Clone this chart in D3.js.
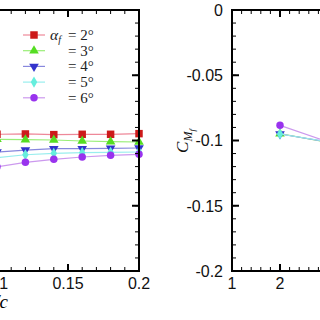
<!DOCTYPE html>
<html><head><meta charset="utf-8">
<script src="https://cdn.jsdelivr.net/npm/d3@7"></script>
<style>body{margin:0;background:#fff}svg{display:block}</style>
</head><body>
<svg id="c" width="320" height="320"></svg>
<script>
// ---- data ----
const angles = ["2°","3°","4°","5°","6°"];
const colors = ["#cc1a1a","#55dd22","#3333cc","#66eedd","#9933ee"];
const lineColors = ["#ee8899","#99ee77","#8888dd","#99eeee","#cc99ee"];
const symbols = ["square","triangle","triangleDown","diamond","circle"];

const leftX = [0.10, 0.12, 0.14, 0.16, 0.18, 0.20];
const left2 = [0.419, 0.420, 0.418, 0.419, 0.419, 0.421];
const left3 = [0.4037, 0.4025, 0.4016, 0.3985, 0.3963, 0.3954];
const left4 = [0.3647, 0.3708, 0.3749, 0.3749, 0.3761, 0.3770];
const left5 = [0.3473, 0.3564, 0.3607, 0.3626, 0.3639, 0.3647];
const left6 = [0.3195, 0.3331, 0.3424, 0.3494, 0.3546, 0.3577];
const leftSeries = [left2, left3, left4, left5, left6];

const rightX = [2, 3];
const right2 = [null, -0.1000];
const right3 = [-0.0948, -0.1015];
const right4 = [-0.0950, -0.1012];
const right5 = [-0.0950, -0.1010];
const right6 = [-0.0884, -0.1010];
const rightSeries = [right2, right3, right4, right5, right6];

const leftXTicks = [0.1, 0.15, 0.2];
const rightXTicks = [1, 2];
const rightYTicks = [0, -0.05, -0.1, -0.15, -0.2];

// ---- layout ----
const svg = d3.select("#c");
const plotTop = 10, plotBottom = 271;
const xL = d3.scaleLinear().domain([0, 0.2]).range([-145, 139]);
const yL = d3.scaleLinear().domain([0, 0.8]).range([plotBottom, plotTop]);
const xR = d3.scaleLinear().domain([1, 6]).range([232, 472]);
const yR = d3.scaleLinear().domain([-0.2, 0]).range([plotBottom, plotTop]);

const tickFont = "'Liberation Sans', Arial, sans-serif";
const serif = "'Liberation Serif', 'Times New Roman', serif";
const symMap = {square: d3.symbolSquare, triangle: d3.symbolTriangle, triangleDown: d3.symbolTriangle, diamond: d3.symbolDiamond, circle: d3.symbolCircle};
const sizes = {square: 56, triangle: 40, triangleDown: 40, diamond: 36, circle: 44};

function frame(g, x, y, xMajor, xMinor, yMajor, yMinor, xFmt, yFmt, showYLabels) {
  const xr = x.range(), yr = y.range();
  const x0 = xr[0], x1 = xr[1], y0 = yr[1], y1 = yr[0];
  const majLen = 7, minLen = 4;
  const mk = (sc, step) => d3.range(Math.round((sc.domain()[1]-sc.domain()[0])/step)+1).map(i => sc.domain()[0] + i*step);
  const xmin = mk(x, xMinor), ymin = mk(y, yMinor), xmaj = mk(x, xMajor), ymaj = mk(y, yMajor);
  const t = g.append("g").attr("stroke", "#000");
  xmin.forEach(v => {
    t.append("line").attr("x1", x(v)).attr("x2", x(v)).attr("y1", y1).attr("y2", y1-minLen).attr("stroke-width", 1);
    t.append("line").attr("x1", x(v)).attr("x2", x(v)).attr("y1", y0).attr("y2", y0+minLen).attr("stroke-width", 1);
  });
  ymin.forEach(v => {
    t.append("line").attr("y1", y(v)).attr("y2", y(v)).attr("x1", x0).attr("x2", x0+minLen).attr("stroke-width", 1);
    t.append("line").attr("y1", y(v)).attr("y2", y(v)).attr("x1", x1).attr("x2", x1-minLen).attr("stroke-width", 1);
  });
  xmaj.forEach(v => {
    t.append("line").attr("x1", x(v)).attr("x2", x(v)).attr("y1", y1).attr("y2", y1-majLen).attr("stroke-width", 2);
    t.append("line").attr("x1", x(v)).attr("x2", x(v)).attr("y1", y0).attr("y2", y0+majLen).attr("stroke-width", 2);
  });
  ymaj.forEach(v => {
    t.append("line").attr("y1", y(v)).attr("y2", y(v)).attr("x1", x0).attr("x2", x0+majLen).attr("stroke-width", 2);
    t.append("line").attr("y1", y(v)).attr("y2", y(v)).attr("x1", x1).attr("x2", x1-majLen).attr("stroke-width", 2);
  });
  g.append("rect").attr("x", x0).attr("y", y0).attr("width", x1-x0).attr("height", y1-y0)
    .attr("fill", "none").attr("stroke", "#000").attr("stroke-width", 2);
  g.append("g").selectAll("text").data(xFmt.ticks).join("text")
    .attr("x", d => x(d)).attr("y", 289).attr("text-anchor", "middle")
    .attr("font-family", tickFont).attr("font-size", 16).attr("fill", "#111")
    .text(d => xFmt.f(d));
  if (showYLabels) {
    g.append("g").selectAll("text").data(yFmt.ticks).join("text")
      .attr("x", x0 - 9).attr("y", d => y(d)).attr("dy", "0.36em").attr("text-anchor", "end")
      .attr("font-family", tickFont).attr("font-size", 16).attr("fill", "#111")
      .text(d => yFmt.f(d));
  }
}

function series(g, x, y, xs, data, i) {
  const pts = xs.map((v, j) => [v, data[j]]).filter(p => p[1] !== null);
  g.append("path").datum(pts)
    .attr("d", d3.line().x(p => x(p[0])).y(p => y(p[1])))
    .attr("fill", "none").attr("stroke", lineColors[i]).attr("stroke-width", 1.2);
  g.append("g").selectAll("path").data(pts).join("path")
    .attr("transform", p => `translate(${x(p[0])},${y(p[1])})` + (symbols[i] === "triangleDown" ? " rotate(180)" : ""))
    .attr("d", d3.symbol().type(symMap[symbols[i]]).size(sizes[symbols[i]]))
    .attr("fill", colors[i]);
}

// left panel
const gL = svg.append("g");
leftSeries.forEach((d, i) => series(gL, xL, yL, leftX, d, i));
frame(gL, xL, yL, 0.05, 0.01, 0.2, 0.04,
  {ticks: leftXTicks, f: d => String(+d.toFixed(2))}, null, false);
gL.append("text").attr("x", 8).attr("y", 308).attr("text-anchor", "end")
  .attr("font-family", serif).attr("font-style", "italic").attr("font-size", 19).text("x/c");

// legend
const lg = svg.append("g");
const ly0 = 35, ldy = 15.7;
angles.forEach((a, i) => {
  const yy = ly0 + i*ldy;
  lg.append("line").attr("x1", 23).attr("x2", 45).attr("y1", yy).attr("y2", yy)
    .attr("stroke", lineColors[i]).attr("stroke-width", 1.2);
  lg.append("path").attr("transform", `translate(34,${yy})` + (symbols[i] === "triangleDown" ? " rotate(180)" : ""))
    .attr("d", d3.symbol().type(symMap[symbols[i]]).size(sizes[symbols[i]])).attr("fill", colors[i]);
  lg.append("text").attr("x", 68).attr("y", yy + 5).attr("font-family", serif).attr("font-size", 15).attr("fill", "#222")
    .text("= " + a);
  if (i === 0) {
    const tt = lg.append("text").attr("x", 50).attr("y", yy + 5).attr("font-family", serif).attr("font-size", 15.5).attr("fill", "#222");
    tt.append("tspan").attr("font-style", "italic").text("α");
    tt.append("tspan").attr("font-style", "italic").attr("font-size", 10).attr("dy", 3).text("f");
  }
});

// right panel
const gR = svg.append("g");
rightSeries.forEach((d, i) => series(gR, xR, yR, rightX, d, i));
frame(gR, xR, yR, 1, 0.2, 0.05, 0.01,
  {ticks: rightXTicks, f: d => String(d)},
  {ticks: rightYTicks, f: d => d === 0 ? "0" : String(+d.toFixed(2))}, true);
const yt = gR.append("text").attr("transform", "translate(188,141) rotate(-90)")
  .attr("text-anchor", "middle").attr("font-family", serif).attr("font-style", "italic").attr("font-size", 17).attr("fill", "#111");
yt.append("tspan").text("C");
yt.append("tspan").attr("font-size", 12).attr("dy", 4).text("M");
yt.append("tspan").attr("font-size", 9).attr("dy", 3).text("f");
</script>
</body></html>
